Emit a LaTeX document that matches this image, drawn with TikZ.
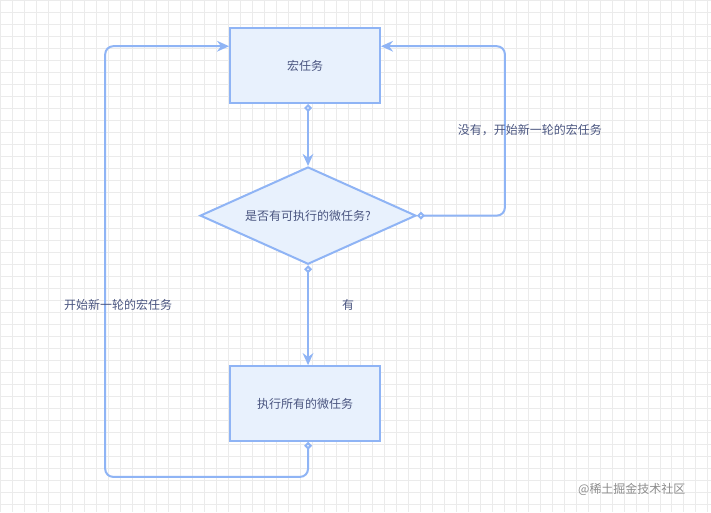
\documentclass[tikz,border=0pt]{standalone}
\usepackage{fontspec}
\setmainfont{Noto Sans CJK SC}
\usetikzlibrary{shapes.geometric,arrows.meta}
\definecolor{lineblue}{HTML}{8FB4F5}
\definecolor{fillblue}{HTML}{E8F1FD}
\definecolor{textblue}{HTML}{4A5580}
\tikzset{
  taskbox/.style={draw=lineblue, fill=fillblue, line width=1.5pt, minimum width=112.5pt, minimum height=56pt, text=textblue, font=\small},
  checkbox/.style={diamond, draw=lineblue, fill=fillblue, line width=1.5pt, aspect=2.22, minimum width=162pt, minimum height=73pt, inner sep=0pt, text=textblue, font=\small},
  flow/.style={draw=lineblue, line width=1.5pt, rounded corners=6pt, {Diamond[open,fill=white,length=6pt,width=6pt]}-{Stealth[length=9pt,width=8pt]}},
  lbl/.style={text=textblue, font=\small}
}
\begin{document}
\begin{tikzpicture}[x=0.75pt,y=-0.75pt]
	\fill[white] (0,0) rectangle (711,512);
	\draw[black!8, line width=0.4pt, step=9pt] (0,0) grid (711,512);
	\useasboundingbox (0,0) rectangle (711,512);
	
	\node[taskbox] (macro) at (305,65.5) {宏任务};
	\node[checkbox] (check) at (308,215.5) {是否有可执行的微任务?};
	\node[taskbox] (micro) at (305,403.5) {执行所有的微任务};
	\coordinate (rightup) at (505,46);
	\coordinate (leftdown) at (105,477);
	
	\draw[flow] (macro.south -| check.north) -- (check.north);
	\draw[flow] (check.east) -| (rightup) -- (macro.east |- rightup);
	\draw[flow] (check.south) -- (micro.north -| check.south);
	\draw[flow] (micro.south -| check.south) |- (leftdown) |- (macro.west |- rightup);
	
	\node[lbl] (nolbl) at (530,130) {没有，开始新一轮的宏任务};
	\node[lbl] (yeslbl) at (348,305) {有};
	\node[lbl] (againlbl) at (118,305) {开始新一轮的宏任务};
	\node[text=black!45, font=\small] (mark) at (632,490) {@稀土掘金技术社区};
\end{tikzpicture}
\end{document}
